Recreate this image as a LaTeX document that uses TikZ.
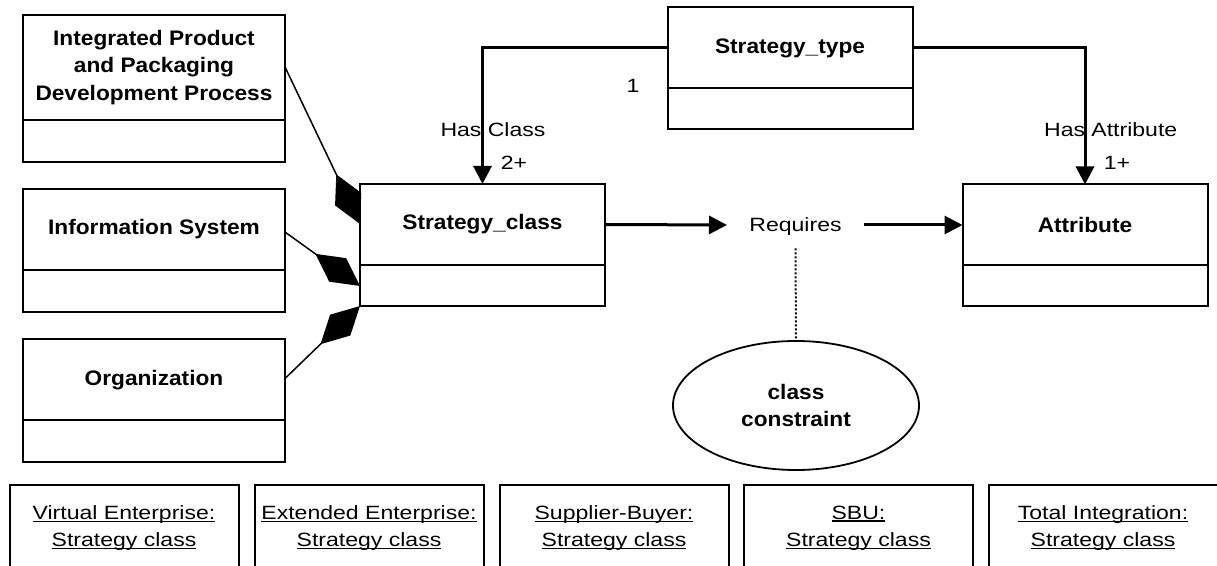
\documentclass[tikz,border=0pt]{standalone}
\usepackage{fontspec}
\setmainfont{Liberation Sans}[FakeStretch=1.2]
\newfontfamily\classfont{Liberation Sans}[FakeStretch=1.08]
\usetikzlibrary{positioning,shapes.geometric,arrows.meta}
\newcommand\uln[1]{\setbox0\hbox{#1}\rlap{\rule[-1.3pt]{\wd0}{0.65pt}}\box0}

\begin{document}
\begin{tikzpicture}[x=0.5pt,y=-0.5pt,
	every node/.style={font=\fontsize{9.6}{13.7}\selectfont},
	classname/.style={draw,line width=1pt,outer sep=0pt,minimum width=122.5pt,minimum height=40.5pt,align=center,font=\fontsize{10.5}{13.7}\selectfont\classfont\bfseries},
	classbody/.style={draw,line width=1pt,outer sep=0pt,minimum width=122.5pt,minimum height=20.5pt},
	sidename/.style={classname,minimum width=131pt},
	sidebody/.style={classbody,minimum width=131pt,minimum height=21pt},
	assoc/.style={line width=1.5pt,-{Triangle[length=9pt,width=9pt]}},
	part/.style={line width=0.75pt,-{Diamond[length=27.5pt,width=14.5pt]}},
	instance/.style={draw,line width=1pt,minimum width=114.5pt,minimum height=43pt,align=center}]
	\useasboundingbox (0,0) rectangle (1217,566);

	\node[sidename,minimum height=52.5pt] (ippd) at (154,67.5) {Integrated Product\\and Packaging\\Development Process};
	\node[sidebody,below=0pt of ippd] (ippd_a) {};
	\node[sidename] (info) at (154,229.5) {Information System};
	\node[sidebody,below=0pt of info] (info_a) {};
	\node[sidename] (org) at (154,380) {Organization};
	\node[sidebody,below=0pt of org] (org_a) {};

	\node[classname] (sc) at (482.5,224.5) {Strategy\_class};
	\node[classbody,below=0pt of sc] (sc_a) {};
	\node[classname] (st) at (790,48) {Strategy\_type};
	\node[classbody,below=0pt of st] (st_a) {};
	\node[classname] (attr) at (1085,225) {Attribute};
	\node[classbody,below=0pt of attr] (attr_a) {};

	\node[inner xsep=11pt,inner ysep=8pt,text depth=0pt] (req) at (795.5,225) {Requires};
	\node[draw,ellipse,line width=0.9pt,minimum width=123pt,minimum height=64.5pt,align=center,font=\fontsize{10.5}{13.7}\selectfont\classfont\bfseries] (cc) at (796,405.5) {class\\constraint};

	\draw[assoc] (st.west) -| (sc.north);
	\draw[assoc] (st.east) -| (attr.north);
	\draw[assoc] (sc.east) -- (req.west);
	\draw[assoc] (req.east) -- (attr.west);
	\draw[line width=1pt,densely dotted] (req.south) -- (cc.north);
	\foreach \s/\a/\b in {ippd/26pt/20pt, info/21.5pt/51pt, org/19.5pt/61pt} {
		\draw[part] ([yshift=-\a]\s.north east) -- ([yshift=-\b]sc.north west);
	}

	\node (one) at (633,86) {1};
	\node (hasclass) at (493,130) {Has Class};
	\node (twoplus) at (514,163) {2+};
	\node (hasattr) at (1110.7,130) {Has Attribute};
	\node (oneplus) at (1117,163) {1+};

	\foreach \x/\n [count=\i] in {124/Virtual Enterprise:, 369/Extended Enterprise:, 614/Supplier-Buyer:, 858.5/SBU:, 1103/Total Integration:} {
		\node[instance] (inst_\i) at (\x,528) {\uln{\n}\\\uln{Strategy class}};
	}
\end{tikzpicture}
\end{document}
